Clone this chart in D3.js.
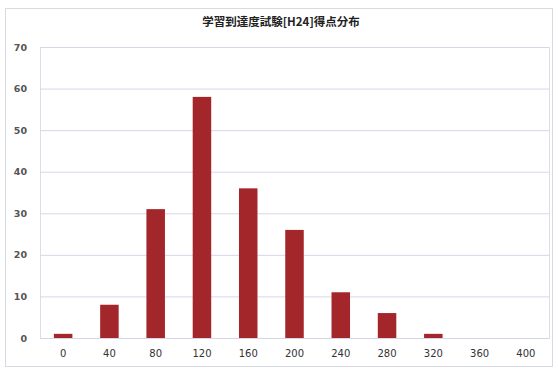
<!DOCTYPE html>
<html>
<head>
<meta charset="utf-8">
<script src="https://cdn.jsdelivr.net/npm/d3@7"></script>
<style>
  html, body { margin: 0; padding: 0; background: #fff; }
  svg { display: block; }
</style>
</head>
<body>
<svg id="chart" width="558" height="372"></svg>
<script>
// Score distribution of the attainment test (H24)
const title = "学習到達度試験[H24]得点分布";
const scoreBins = ["0", "40", "80", "120", "160", "200", "240", "280", "320", "360", "400"];
const counts = [1, 8, 31, 58, 36, 26, 11, 6, 1, 0, 0];
const yTicks = [0, 10, 20, 30, 40, 50, 60, 70];

const svg = d3.select("#chart");
const W = 558, H = 372;
const margin = { top: 47, right: 9, bottom: 34, left: 40 };
const plotW = W - margin.left - margin.right;
const plotH = H - margin.top - margin.bottom;

// outer chart frame
svg.append("rect")
  .attr("x", 5.5).attr("y", 8.5)
  .attr("width", W - 11).attr("height", H - 14)
  .attr("fill", "#fff")
  .attr("stroke", "#d9d9e3");

svg.append("text")
  .attr("x", W / 2 + 2).attr("y", 26)
  .attr("text-anchor", "middle")
  .attr("font-family", "'Noto Sans CJK JP', sans-serif")
  .attr("font-weight", "bold")
  .attr("font-size", 11.5)
  .attr("fill", "#222")
  .text(title);

const g = svg.append("g").attr("transform", `translate(${margin.left},${margin.top})`);

const x = d3.scaleBand().domain(scoreBins).range([0, plotW]).paddingInner(0.6).paddingOuter(0.3);
const y = d3.scaleLinear().domain([0, 70]).range([plotH, 0]);

// plot area border
g.append("rect")
  .attr("x", 0.5).attr("y", 0.5)
  .attr("width", plotW).attr("height", plotH)
  .attr("fill", "none")
  .attr("stroke", "#dcdcea");

// horizontal gridlines + y labels
const yAxis = d3.axisLeft(y).tickValues(yTicks).tickSize(-plotW).tickPadding(13);
const ya = g.append("g").call(yAxis);
ya.select(".domain").remove();
ya.selectAll(".tick line").attr("stroke", "#d6d6ea");
ya.selectAll(".tick text")
  .attr("font-family", "'DejaVu Sans', sans-serif")
  .attr("font-size", 9.5)
  .attr("font-weight", "bold")
  .attr("fill", "#555");

// bars
g.selectAll("rect.bar")
  .data(counts)
  .join("rect")
  .attr("class", "bar")
  .attr("x", (d, i) => x(scoreBins[i]))
  .attr("width", x.bandwidth())
  .attr("y", d => y(d))
  .attr("height", d => plotH - y(d))
  .attr("fill", "#a3262b");

// x axis labels
const xAxis = d3.axisBottom(x).tickSize(0).tickPadding(12);
const xa = g.append("g").attr("transform", `translate(0,${plotH})`).call(xAxis);
xa.select(".domain").remove();
xa.selectAll(".tick text")
  .attr("font-family", "'DejaVu Sans', sans-serif")
  .attr("font-size", 10)
  .attr("fill", "#333");
</script>
</body>
</html>
